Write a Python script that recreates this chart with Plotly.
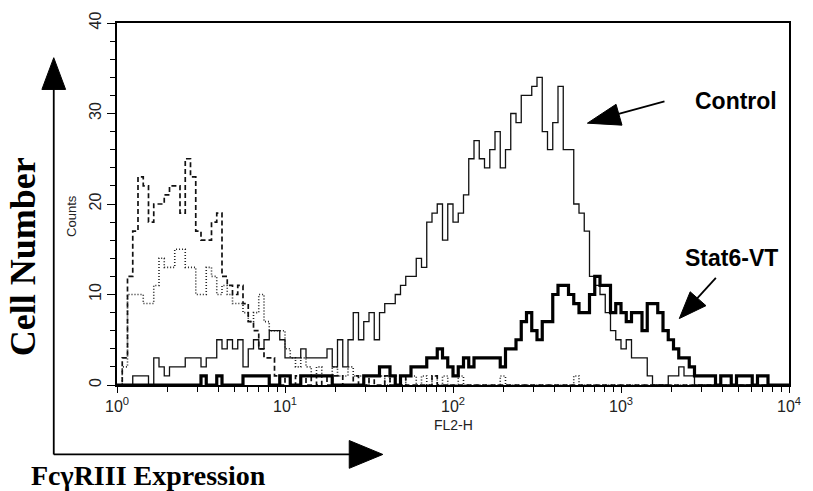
import plotly.graph_objects as go

# ---------------- data ----------------
# FL2-H channels, 64 channels per decade, one bin every 2 channels
channel = list(range(0, 256, 2))

control = [0, 0, 0, 1, 1, 1, 0, 3, 2, 1,
           2, 2, 2, 3, 3, 3, 2, 3, 3, 5,
           4, 5, 4, 5, 2, 4, 5, 4, 5, 6,
           6, 5, 3, 3, 3, 4, 3, 3, 3, 3,
           4, 2, 5, 2, 5, 8, 5, 7, 8, 5,
           8, 9, 9, 10, 11, 12, 12, 14, 13, 18,
           19, 20, 16, 20, 18, 19, 21, 25, 27, 25,
           24, 26, 28, 24, 26, 30, 29, 32, 32, 33,
           34, 28, 26, 29, 33, 26, 26, 20, 19, 17,
           12, 11, 10, 8, 6, 5, 4, 5, 3, 3,
           3, 1, 0, 0, 0, 1, 1, 2, 1, 1,
           0, 0, 0, 0, 0, 0, 0, 0, 0, 0,
           0, 0, 0, 0, 0, 0, 0, 0]

stat6_vt = [0, 0, 0, 0, 0, 0, 0, 0, 0, 0,
            0, 0, 0, 0, 0, 0, 1, 0, 0, 1,
            0, 0, 0, 0, 1, 1, 1, 1, 1, 0,
            0, 1, 1, 0, 0, 1, 1, 1, 1, 1,
            1, 0, 0, 0, 0, 0, 0, 1, 1, 1,
            2, 2, 1, 0, 1, 1, 2, 2, 2, 3,
            3, 4, 3, 2, 1, 2, 3, 2, 3, 3,
            3, 3, 3, 2, 4, 4, 5, 7, 8, 6,
            5, 7, 7, 10, 11, 11, 10, 9, 8, 8,
            10, 12, 11, 11, 8, 9, 8, 7, 8, 8,
            6, 9, 9, 8, 6, 5, 4, 3, 3, 2,
            1, 1, 1, 1, 0, 1, 1, 0, 1, 1,
            1, 0, 1, 1, 0, 0, 0, 0]

isotype_dashed = [0, 3, 12, 17, 23, 22, 18, 20, 20, 21,
                  22, 22, 19, 25, 23, 17, 16, 16, 18, 19,
                  12, 11, 10, 11, 9, 7, 6, 4, 3, 3,
                  1, 0, 1, 0, 1, 1, 0, 1, 0, 1,
                  0, 1, 1, 0, 0, 1, 0, 0, 1, 0,
                  0, 1, 0, 0, 1, 0, 0, 0, 0, 0,
                  1, 0, 0, 0, 0, 0, 0, 0, 0, 0,
                  0, 0, 0, 0, 0, 0, 0, 0, 0, 0,
                  0, 0, 0, 0, 0, 0, 0, 0, 0, 0,
                  0, 0, 0, 0, 0, 0, 0, 0, 0, 0,
                  0, 0, 0, 0, 0, 0, 0, 0, 0, 0,
                  0, 0, 0, 0, 0, 0, 0, 0, 0, 0,
                  0, 0, 0, 0, 0, 0, 0, 0]

isotype_dotted = [0, 2, 10, 10, 10, 9, 9, 11, 14, 13,
                  13, 15, 15, 13, 13, 10, 10, 13, 12, 10,
                  11, 10, 9, 9, 8, 7, 8, 10, 7, 6,
                  6, 6, 4, 3, 2, 3, 2, 1, 2, 1,
                  1, 2, 1, 1, 2, 1, 1, 0, 1, 1,
                  1, 0, 1, 1, 0, 1, 1, 0, 1, 0,
                  1, 0, 1, 0, 0, 1, 0, 0, 0, 0,
                  0, 0, 0, 1, 0, 0, 0, 0, 0, 0,
                  0, 0, 0, 0, 0, 0, 0, 1, 0, 0,
                  0, 0, 0, 0, 0, 0, 0, 0, 0, 0,
                  0, 0, 0, 0, 0, 0, 0, 0, 0, 0,
                  0, 0, 0, 0, 0, 0, 0, 0, 0, 0,
                  0, 0, 0, 0, 0, 0, 0, 0]

x_tick_vals = [1, 10, 100, 1000, 10000]
x_tick_text = ["10<sup>0</sup>", "10<sup>1</sup>", "10<sup>2</sup>",
               "10<sup>3</sup>", "10<sup>4</sup>"]
x_minor_vals = [m * d for d in [1, 10, 100, 1000] for m in range(2, 10)]
y_tick_vals = [0, 10, 20, 30, 40]
y_tick_text = ["0", "10", "20", "30", "40"]
y_minor_vals = [v for v in range(0, 41, 2) if v % 10 != 0]

# ---------------- figure ----------------
fl2 = [10 ** (c / 64) for c in channel] + [10 ** 4]


def steps(v):
    return list(v) + [v[-1]]


fig = go.Figure()
fig.add_trace(go.Scatter(x=fl2, y=steps(isotype_dotted), mode="lines",
                         line=dict(color="#222", width=1.6, dash="1px,2px", shape="hv")))
fig.add_trace(go.Scatter(x=fl2, y=steps(isotype_dashed), mode="lines",
                         line=dict(color="#111", width=1.7, dash="5px,3px", shape="hv")))
fig.add_trace(go.Scatter(x=fl2, y=steps(control), mode="lines",
                         line=dict(color="#111", width=1.3, shape="hv")))
fig.add_trace(go.Scatter(x=fl2, y=steps(stat6_vt), mode="lines",
                         line=dict(color="#000", width=3.2, shape="hv")))

L, R, T, B = 117, 16, 20, 106
W, H = 813, 491
PW, PH = W - L - R, H - T - B


def X(px):
    return (px - L) / PW


def Y(py):
    return (H - B - py) / PH


x_font = dict(family="Liberation Sans, Arial", size=16, color="#222")
y_font = dict(family="Liberation Sans, Arial", size=16, color="#222")

fig.update_layout(
    width=W, height=H,
    margin=dict(l=L, r=R, t=T, b=B, pad=0),
    paper_bgcolor="white", plot_bgcolor="white",
    showlegend=False,
    xaxis=dict(type="log", range=[0, 4], tickmode="array",
               tickvals=x_tick_vals, ticktext=x_tick_text,
               ticks="outside", ticklen=6, tickwidth=1.4, tickcolor="black",
               showline=True, linecolor="black", linewidth=2, mirror=True,
               showgrid=False, zeroline=False, tickfont=x_font,
               minor=dict(tickmode="array", tickvals=x_minor_vals, ticks="outside",
                          ticklen=5, tickwidth=1.2, tickcolor="black", showgrid=False)),
    yaxis=dict(range=[0, 40], tickmode="array",
               tickvals=y_tick_vals, ticktext=y_tick_text, tickangle=-90,
               ticks="outside", ticklen=8, tickwidth=1.4, tickcolor="black",
               showline=True, linecolor="black", linewidth=2, mirror=True,
               showgrid=False, zeroline=False, tickfont=y_font,
               minor=dict(tickmode="array", tickvals=y_minor_vals, ticks="outside",
                          ticklen=5, tickwidth=1.2, tickcolor="black", showgrid=False)),
)

shapes = []
line_style = dict(color="black", width=1.8)
# outer "Cell Number" arrow (vertical) and "FcγRIII Expression" arrow (horizontal)
shapes.append(dict(type="line", xref="paper", yref="paper",
                   x0=X(53), y0=Y(455), x1=X(53), y1=Y(86), line=line_style))
shapes.append(dict(type="line", xref="paper", yref="paper",
                   x0=X(53), y0=Y(455), x1=X(354), y1=Y(455), line=line_style))


def tri(pts):
    d = "M " + " L ".join(f"{X(a):.5f},{Y(b):.5f}" for a, b in pts) + " Z"
    return dict(type="path", xref="paper", yref="paper", path=d,
                fillcolor="black", line=dict(color="black", width=1))


shapes.append(tri([(41, 87), (65, 87), (53, 55)]))
shapes.append(tri([(352, 441), (352, 469), (386, 455)]))
# Control arrow
shapes.append(dict(type="line", xref="paper", yref="paper",
                   x0=X(671), y0=Y(99), x1=X(620), y1=Y(113), line=line_style))
shapes.append(tri([(593, 121), (622, 102), (628, 123)]))
# Stat6-VT arrow
shapes.append(dict(type="line", xref="paper", yref="paper",
                   x0=X(723), y0=Y(277), x1=X(702), y1=Y(300), line=line_style))
shapes.append(tri([(686, 318), (697, 291), (713, 305)]))
fig.update_layout(shapes=shapes)

serif_bold = dict(family="Liberation Serif, Times New Roman", size=28, color="black")
sans_bold = dict(family="Liberation Sans, Arial", size=23, color="black")
small = dict(family="Liberation Sans, Arial", size=13, color="#222")

ann = [
    dict(text="<b>Cell Number</b>", x=X(22), y=Y(256), textangle=-90,
         font=dict(serif_bold, size=36)),
    dict(text="<b>FcγRIII Expression</b>", x=X(149), y=Y(476), font=serif_bold),
    dict(text="<b>Control</b>", x=X(743), y=Y(99), font=sans_bold),
    dict(text="<b>Stat6-VT</b>", x=X(739), y=Y(257), font=sans_bold),
    dict(text="Counts", x=X(71), y=Y(215), textangle=-90, font=small),
    dict(text="FL2-H", x=X(457), y=Y(425), font=dict(small, size=14)),
]
for a in ann:
    a.update(xref="paper", yref="paper", showarrow=False,
             xanchor="center", yanchor="middle")
fig.update_layout(annotations=ann)

fig.write_html("out.html")
